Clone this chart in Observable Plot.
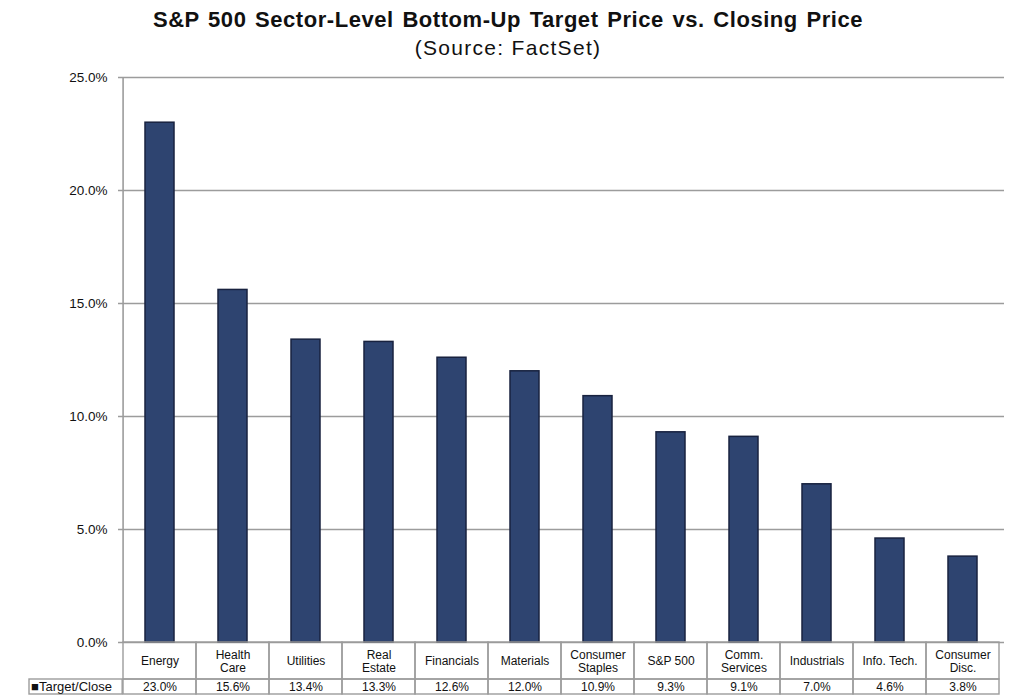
<!DOCTYPE html>
<html><head><meta charset="utf-8">
<script src="https://cdn.jsdelivr.net/npm/d3@7"></script>
<script src="https://cdn.jsdelivr.net/npm/@observablehq/plot@0.6"></script>
<style>
body{margin:0;background:#fff;font-family:"Liberation Sans",Arial,sans-serif;}
#title{height:62px;text-align:center;color:#111;overflow:visible;}
#t1{font-weight:bold;font-size:22px;padding-top:8px;line-height:24px;letter-spacing:0.55px;word-spacing:2px;white-space:nowrap;}
#t2{font-size:21px;line-height:31px;letter-spacing:1.3px;white-space:nowrap;}
#chart svg{display:block;}
</style></head><body>
<div id="title"><div id="t1">S&amp;P 500 Sector-Level Bottom-Up Target Price vs. Closing Price</div><div id="t2">(Source: FactSet)</div></div>
<div id="chart"></div>
<script>
const categories = ["Energy","Health Care","Utilities","Real Estate","Financials","Materials","Consumer Staples","S&P 500","Comm. Services","Industrials","Info. Tech.","Consumer Disc."];
const labels = ["Energy","Health\nCare","Utilities","Real\nEstate","Financials","Materials","Consumer\nStaples","S&P 500","Comm.\nServices","Industrials","Info. Tech.","Consumer\nDisc."];
const values = [23.0,15.6,13.4,13.3,12.6,12.0,10.9,9.3,9.1,7.0,4.6,3.8];
const yTicks = [0,5,10,15,20,25];
const seriesName = "Target/Close";

const W = 1016, H = 637, mL = 118, mR = 12, mT = 15, mB = 57;
const bw = (W - mL - mR) / categories.length;
const row1 = 37, row2 = 15;
const gridColor = "#9c9c9c";
const data = categories.map((c, i) => ({cat: c, value: values[i]}));

const chart = Plot.plot({
  width: W, height: H,
  marginLeft: mL, marginRight: mR, marginTop: mT, marginBottom: mB,
  style: {fontFamily: "'Liberation Sans', Arial, sans-serif", fontSize: "12px", color: "#111", background: "#fff"},
  x: {type: "band", domain: categories, paddingInner: 0, paddingOuter: 0, axis: null},
  y: {domain: [0, 25], axis: null},
  marks: [
    Plot.ruleY(yTicks, {stroke: gridColor, strokeWidth: 1.6}),
    Plot.axisY({ticks: yTicks, tickFormat: d => d.toFixed(1) + "%", tickSize: 0, tickPadding: 11, label: null, fontSize: 13.5}),
    Plot.ruleX([categories[0]], {x: d => d, y1: 0, y2: 25, dx: -bw / 2, stroke: gridColor, strokeWidth: 1.6}),
    Plot.barY(data, {x: "cat", y: "value", fill: "#2e4470", stroke: "#18223f", strokeWidth: 1.5, insetLeft: 22, insetRight: 22}),
    Plot.barY(categories, {x: d => d, y1: 0, y2: 0, insetTop: 0, insetBottom: -row1, fill: "none", stroke: gridColor, strokeWidth: 1.4}),
    Plot.barY(categories, {x: d => d, y1: 0, y2: 0, insetTop: row1, insetBottom: -(row1 + row2), fill: "none", stroke: gridColor, strokeWidth: 1.4}),
    Plot.barY([categories[0]], {x: d => d, y1: 0, y2: 0, insetTop: row1, insetBottom: -(row1 + row2), insetLeft: -94, insetRight: bw, fill: "none", stroke: gridColor, strokeWidth: 1.4}),
    Plot.text(categories, {x: d => d, text: (d, i) => labels[i], frameAnchor: "bottom", lineAnchor: "middle", dy: row1 / 2, lineHeight: 1.15, fill: "#111"}),
    Plot.text(values, {x: (d, i) => categories[i], text: d => d.toFixed(1) + "%", frameAnchor: "bottom", lineAnchor: "middle", dy: row1 + row2 / 2, fill: "#111"}),
    Plot.text([seriesName], {frameAnchor: "bottom-left", lineAnchor: "middle", dx: -47, dy: row1 + row2 / 2, text: d => "\u25A0" + d, textAnchor: "middle", fontSize: 13, fill: "#111"})
  ]
});
document.getElementById("chart").appendChild(chart);
</script>
</body></html>
